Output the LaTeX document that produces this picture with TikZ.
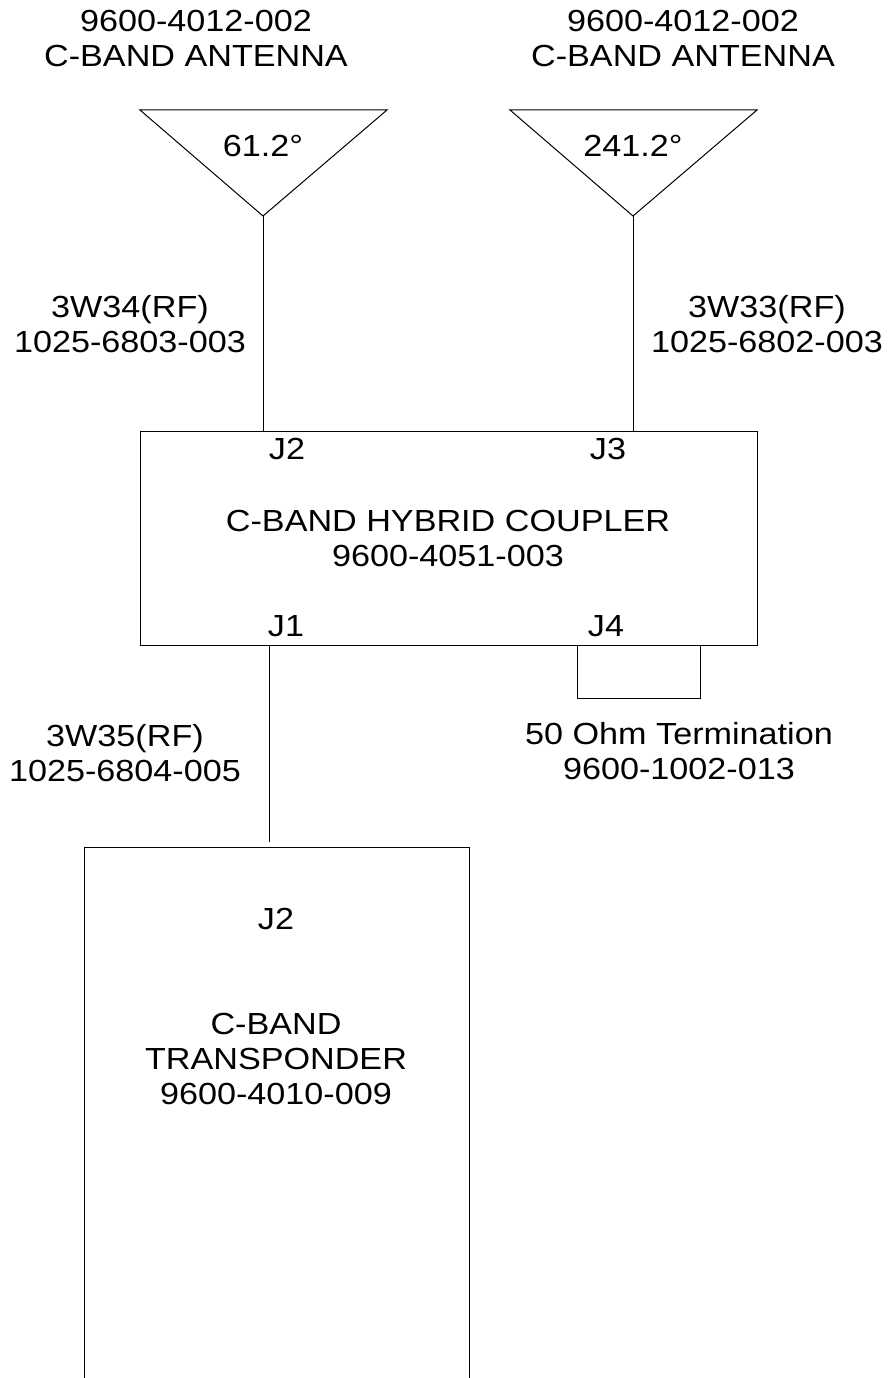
\documentclass[tikz,border=0pt]{standalone}
\usepackage{fontspec}
\setmainfont[FakeStretch=1.12]{Liberation Sans}
\usetikzlibrary{positioning}
\tikzset{
    lbl/.style={align=center, font=\fontsize{30.5}{35}\selectfont, inner sep=0pt},
    unitbox/.style={draw, line width=1pt, minimum width=617pt, minimum height=214pt, inner sep=0pt},
    wire/.style={line width=1pt}
}
\begin{document}
\begin{tikzpicture}[x=1pt,y=-1pt]
    \useasboundingbox (0,0) rectangle (888,1378);

    % antennas
    \draw[wire] (140,110) coordinate (antL) -- (387,110) -- (263,216) coordinate (tipL) -- cycle;
    \draw[wire] (510,110) coordinate (antR) -- (757,110) -- (633,216) coordinate (tipR) -- cycle;
    \node[lbl] (angL) at (263,146) {61.2°};
    \node[lbl] (angR) at (633,146) {241.2°};
    \node[lbl] (nameL) at (196,39) {9600-4012-002\\C-BAND ANTENNA};
    \node[lbl] (nameR) at (683,39) {9600-4012-002\\C-BAND ANTENNA};

    % coupler
    \node[unitbox, anchor=north west] (coupler) at (140,431) {};
    \node[lbl] (couplerlbl) at (448,538) {C-BAND HYBRID COUPLER\\9600-4051-003};
    \node[lbl] (jtwo) at (287,449) {J2};
    \node[lbl] (jthree) at (608,449) {J3};
    \node[lbl] (jone) at (286,626) {J1};
    \node[lbl] (jfour) at (606,626) {J4};
    \coordinate (portone) at (269,645);

    % cables
    \draw[wire] (tipL) -- (tipL |- coupler.north);
    \draw[wire] (tipR) -- (tipR |- coupler.north);
    \node[lbl] (cableL) at (130,324) {3W34(RF)\\1025-6803-003};
    \node[lbl] (cableR) at (767,324) {3W33(RF)\\1025-6802-003};
    \node[lbl] (cableB) at (125,753) {3W35(RF)\\1025-6804-005};

    % termination
    \coordinate (termtl) at (577,645);
    \coordinate (termtr) at (700,645);
    \draw[wire] (termtl) -- (577,698) -- (700,698) -- (termtr);
    \node[lbl] (termlbl) at (679,751) {50 Ohm Termination\\9600-1002-013};

    % transponder, open at the bottom
    \coordinate (xpdrtl) at (84,847);
    \coordinate (xpdrtr) at (469,847);
    \draw[wire] (84,1378) -- (xpdrtl) -- (xpdrtr) -- (469,1378);
    \coordinate (xpdrend) at (269,842);
    \draw[wire] (portone) -- (xpdrend);
    \node[lbl] (xpdrj) at (276,919) {J2};
    \node[lbl] (xpdrlbl) at (276,1059) {C-BAND\\TRANSPONDER\\9600-4010-009};
\end{tikzpicture}
\end{document}
